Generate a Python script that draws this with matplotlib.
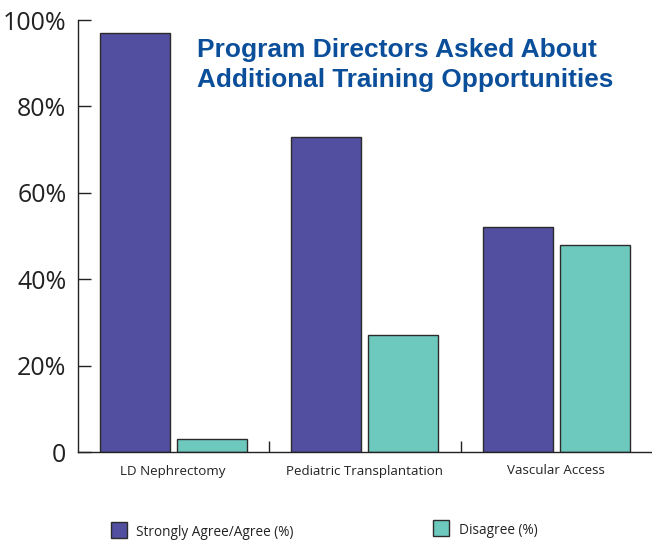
import matplotlib
matplotlib.use("Agg")
import matplotlib.pyplot as plt
from matplotlib.patches import Rectangle
import numpy as np

categories = ["LD Nephrectomy", "Pediatric Transplantation", "Vascular Access"]
agree = [97, 73, 52]
disagree = [3, 27, 48]
series_names = ["Strongly Agree/Agree (%)", "Disagree (%)"]
yticks = [0, 20, 40, 60, 80, 100]
ytick_labels = ["0", "20%", "40%", "60%", "80%", "100%"]
title = "Program Directors Asked About\nAdditional Training Opportunities"

purple = "#524ea0"
teal = "#6dc9be"
edge = "#2b2b2b"

W, H = 652, 540
fig = plt.figure(figsize=(6.52, 5.4), dpi=100)
ax = fig.add_axes([77.5 / W, 1 - 452 / H, 1 - 77.5 / W, 432 / H])

x = np.arange(len(categories))
w = 70 / 192
gap = 7 / 192
ax.bar(x - (w + gap) / 2, agree, width=w, color=purple, edgecolor=edge, linewidth=1, zorder=2)
ax.bar(x + (w + gap) / 2, disagree, width=w, color=teal, edgecolor=edge, linewidth=1, zorder=2)

ax.set_xlim(-0.5, 2.5)
ax.set_ylim(0, 100)

for s in ["top", "right"]:
    ax.spines[s].set_visible(False)
for s in ["left", "bottom"]:
    ax.spines[s].set_linewidth(1)
    ax.spines[s].set_color("#222")

ax.set_yticks(yticks)
ax.set_yticklabels(ytick_labels, fontfamily="Open Sans", fontsize=18, color="#222")
ax.tick_params(axis="y", direction="in", length=9, width=1, pad=8, color="#222")

ax.set_xticks(x)
ax.set_xticklabels(categories, fontfamily="Open Sans", fontsize=9.6, color="#222")
ax.tick_params(axis="x", which="major", length=0, pad=9)
ax.set_xticks([0.5, 1.5], minor=True)
ax.tick_params(axis="x", which="minor", direction="in", length=8, width=1, color="#222")

fig.text(197 / W, 1 - 57 / H, title.split("\n")[0], fontfamily="Liberation Sans", fontweight="bold",
         fontsize=19, color="#0b4f9a", va="baseline", ha="left")
fig.text(197 / W, 1 - 87 / H, title.split("\n")[1], fontfamily="Liberation Sans", fontweight="bold",
         fontsize=18.8, color="#0b4f9a", va="baseline", ha="left")

# legend keys and labels
leg_colors = [purple, teal]
leg_boxes = [(111, 521.5), (433, 519.5)]
leg_text_pos = [(136, 536), (459, 534.5)]
for c, (bx, by), (tx, ty), name in zip(leg_colors, leg_boxes, leg_text_pos, series_names):
    fig.patches.append(Rectangle((bx / W, 1 - (by + 16) / H), 16 / W, 16 / H, transform=fig.transFigure,
                                 facecolor=c, edgecolor=edge, linewidth=1, figure=fig))
    fig.text(tx / W, 1 - ty / H, name, fontfamily="Open Sans", fontsize=9.8, color="#222",
             va="baseline", ha="left")

fig.savefig("out.png", dpi=100)
